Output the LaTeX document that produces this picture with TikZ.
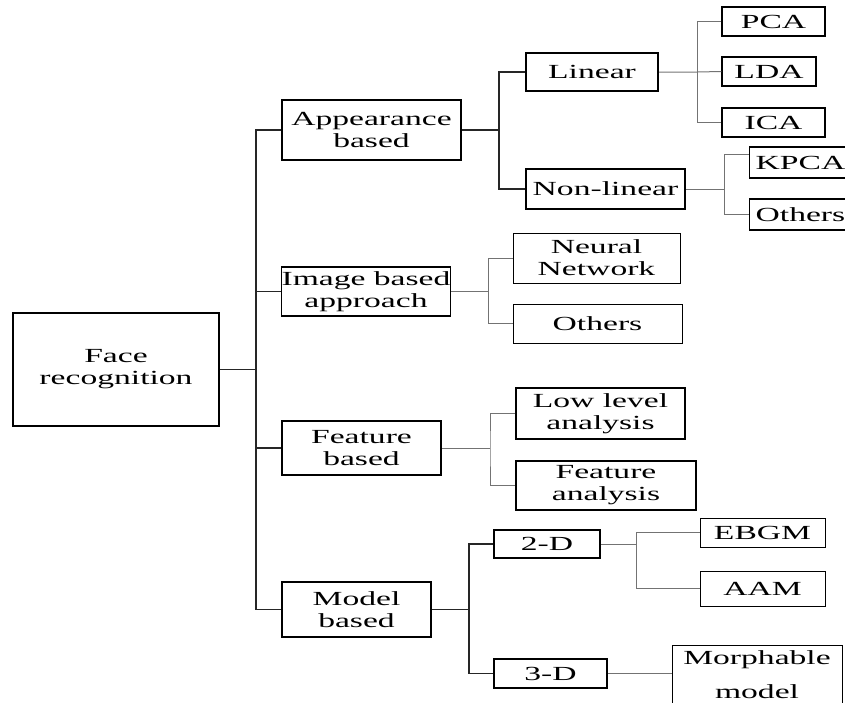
\documentclass[tikz,border=0pt]{standalone}
\usepackage{fontspec}
\setmainfont[FakeStretch=1.68]{Liberation Serif}
\usepackage{tikz}

\begin{document}
\begin{tikzpicture}[
    x=1pt, y=-1pt,
    every node/.style={font=\fontsize{20}{22}\selectfont, align=center, inner sep=0pt},
    boite/.style 2 args={draw, minimum width=#1, minimum height=#2},
    coupee/.style={draw, anchor=west, minimum height=#1, text width=118pt, inner xsep=6pt, align=left},
    epais/.style={line width=2pt},
    moyen/.style={line width=1.3pt},
    mince/.style={line width=1pt},
    tronc/.style={draw=black!85, line width=1.3pt},
    branche/.style={draw=black!55, line width=1pt},
  ]
  \useasboundingbox (0,0) rectangle (845,702);
  \clip (0,0) rectangle (845,702);

  \node[boite={206}{113}, epais] (face) at (116,369.5) {Face\\recognition};

  % premier niveau
  \node[boite={179}{60}, epais] (appear)  at (371.5,130)   {Appearance\\based};
  \node[boite={168}{49}, moyen] (image)   at (366,291.5)   {Image based\\approach};
  \node[boite={159}{54}, epais] (feature) at (361.5,448)   {Feature\\based};
  \node[boite={149}{55}, epais] (model)   at (356.5,609.5) {Model\\based};

  \node[boite={132}{38}, epais] (linear) at (592,72)    {Linear};
  \node[boite={159}{40}, epais] (nonlin) at (605.5,189) {Non-linear};
  \node[boite={167}{50}, mince] (neural) at (596.5,258)   {Neural\\Network};
  \node[boite={169}{39}, mince] (othimg) at (597.5,323.5) {Others};
  \node[boite={169}{51}, moyen] (lowlev) at (600.5,413.5) {Low level\\analysis};
  \node[boite={180}{49}, moyen] (featan) at (606,485.5)   {Feature\\analysis};
  \node[boite={106}{28}, epais] (twod)   at (547,544)     {2-D};
  \node[boite={113}{29}, epais] (threed) at (550.5,673.5) {3-D};

  % feuilles
  \node[boite={103}{29}, moyen] (pca)   at (773.5,21.5)  {PCA};
  \node[boite={94}{29},  moyen] (lda)   at (769,71.5)    {LDA};
  \node[boite={103}{29}, moyen] (ica)   at (773.5,122.5) {ICA};
  \node[coupee=31, moyen] (kpca)  at (749,162.5) {KPCA};
  \node[coupee=31, moyen] (othnl) at (749,214.5) {Others};
  \node[boite={125}{29}, mince] (ebgm)  at (762.5,532.5) {EBGM};
  \node[boite={125}{35}, mince] (aam)   at (762.5,588.5) {AAM};
  \node[boite={170}{60}, mince] (morph) at (757,675)     {Morphable\\[12pt]model};

  \coordinate (tr) at (256,369.5);
  \draw[tronc] (face.east) -- (tr);
  \draw[tronc] (appear.west) -| (tr) |- (model.west);
  \draw[tronc] (image.west) -- (image.west -| tr);
  \draw[tronc] (feature.west) -- (feature.west -| tr);

  \draw[tronc] (appear.east) -- ++(37,0) coordinate (ja);
  \draw[tronc] (linear.west) -| (ja) |- (nonlin.west);
  \draw[branche] (image.east) -- ++(37,0) coordinate (ji);
  \draw[branche] (neural.west) -| (ji) |- (othimg.west);
  \draw[branche] (feature.east) -- ++(48,0) coordinate (jf);
  \draw[branche] (lowlev.west) -| (jf) |- (featan.west);
  \draw[tronc] (model.east) -- ++(37,0) coordinate (jm);
  \draw[tronc] (twod.west) -| (jm) |- (threed.west);

  \draw[branche] (linear.east) -- ++(38,0) coordinate (jl) -- (lda.west);
  \draw[branche] (pca.west) -| (jl) |- (ica.west);
  \draw[branche] (nonlin.east) -- ++(38,0) coordinate (jn);
  \draw[branche] ([yshift=8.5pt]kpca.west) -| (jn) |- (othnl.west);
  \draw[branche] (twod.east) -- ++(35,0) coordinate (jd);
  \draw[branche] (ebgm.west) -| (jd) |- (aam.west);
  \draw[branche] (threed.east) -- (threed.east -| morph.west);
\end{tikzpicture}
\end{document}
